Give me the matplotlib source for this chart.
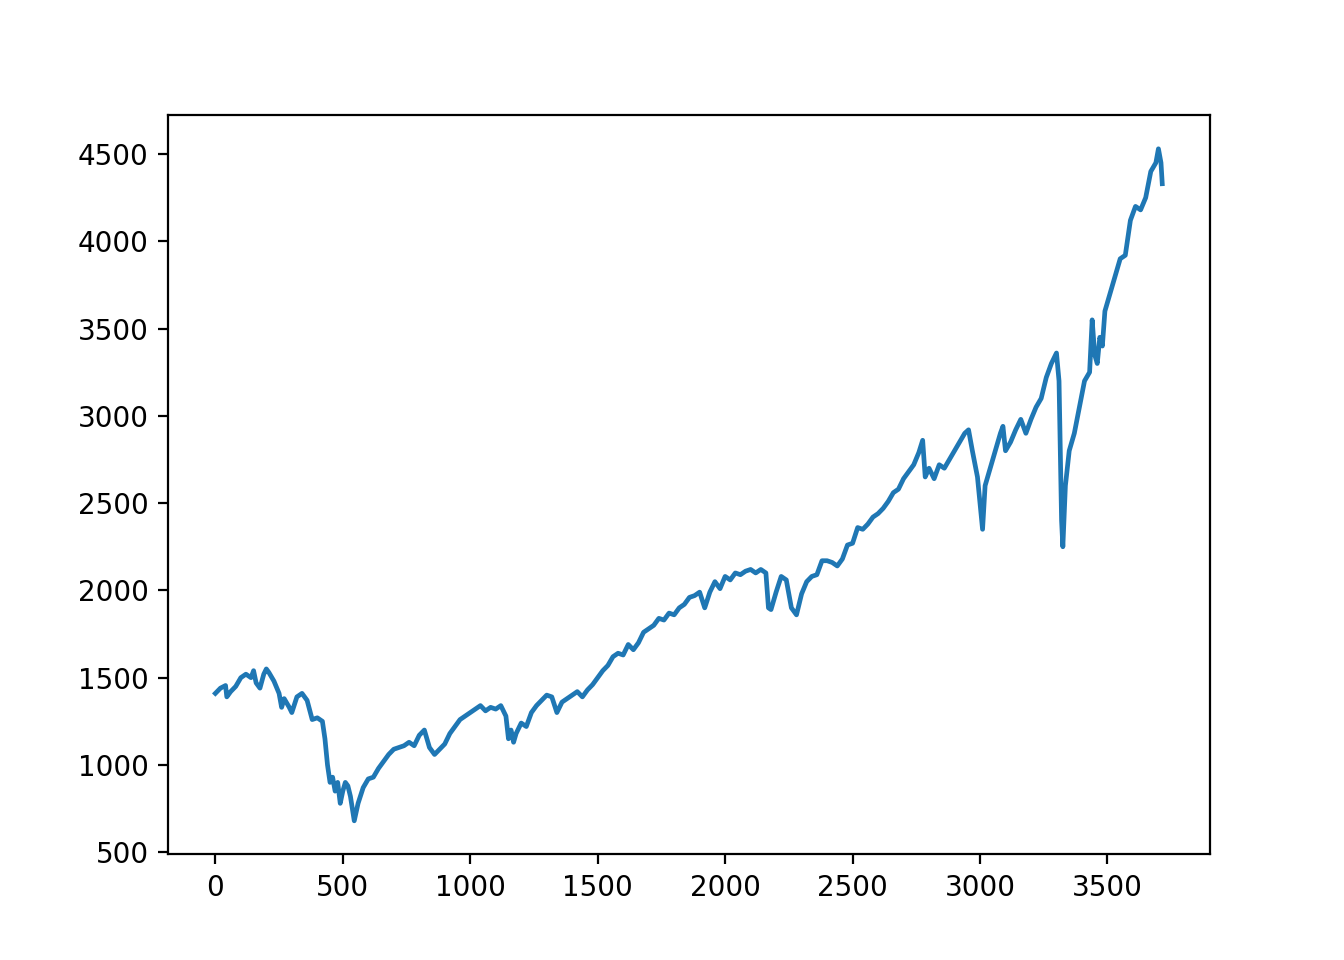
import matplotlib
matplotlib.use("Agg")
import matplotlib.pyplot as plt

day = [0,20,40,45,60,80,100,120,140,150,160,175,190,200,210,230,250,260,270,290,300,320,340,360,380,400,420,430,440,450,460,470,480,490,500,510,520,530,545,560,580,600,620,640,660,680,700,720,740,760,780,800,820,840,860,880,900,920,940,960,980,1000,1020,1040,1060,1080,1100,1120,1140,1150,1160,1170,1180,1200,1220,1240,1260,1280,1300,1320,1340,1360,1380,1400,1420,1440,1460,1480,1500,1520,1540,1560,1580,1600,1620,1640,1660,1680,1700,1720,1740,1760,1780,1800,1820,1840,1860,1880,1900,1920,1940,1960,1980,2000,2020,2040,2060,2080,2100,2120,2140,2160,2170,2180,2200,2220,2240,2260,2280,2300,2320,2340,2360,2380,2400,2420,2440,2460,2480,2500,2520,2540,2560,2580,2600,2620,2640,2660,2680,2700,2720,2740,2760,2775,2785,2800,2820,2840,2860,2880,2900,2920,2940,2955,2970,2990,3000,3010,3020,3040,3060,3080,3090,3100,3120,3140,3160,3180,3200,3220,3240,3260,3280,3300,3310,3320,3325,3335,3350,3370,3390,3410,3430,3440,3450,3460,3470,3480,3490,3510,3530,3550,3570,3590,3610,3630,3650,3670,3690,3700,3710,3715]
close = [1410,1440,1455,1390,1420,1450,1500,1520,1500,1540,1470,1440,1520,1550,1530,1480,1410,1330,1380,1330,1300,1390,1410,1370,1260,1270,1250,1150,1000,900,930,850,900,780,850,900,880,820,680,780,870,920,930,980,1020,1060,1090,1100,1110,1130,1110,1170,1200,1100,1060,1090,1120,1180,1220,1260,1280,1300,1320,1340,1310,1330,1320,1340,1280,1150,1200,1130,1180,1240,1220,1300,1340,1370,1400,1390,1300,1360,1380,1400,1420,1390,1430,1460,1500,1540,1570,1620,1640,1630,1690,1660,1700,1760,1780,1800,1840,1830,1870,1860,1900,1920,1960,1970,1990,1900,1990,2050,2010,2080,2060,2100,2090,2110,2120,2100,2120,2100,1900,1890,1990,2080,2060,1900,1860,1980,2050,2080,2090,2170,2170,2160,2140,2180,2260,2270,2360,2350,2380,2420,2440,2470,2510,2560,2580,2640,2680,2720,2790,2860,2650,2700,2640,2720,2700,2750,2800,2850,2900,2920,2800,2650,2500,2350,2600,2700,2800,2900,2940,2800,2850,2920,2980,2900,2980,3050,3100,3220,3300,3360,3200,2400,2250,2600,2800,2900,3050,3200,3250,3550,3350,3300,3450,3400,3600,3700,3800,3900,3920,4120,4200,4180,4250,4400,4450,4530,4450,4330]

fig, ax = plt.subplots(figsize=(6.72, 4.8), dpi=200)
ax.plot(day, close, color="#1f77b4", lw=1.7)
fig.savefig("out.png")
